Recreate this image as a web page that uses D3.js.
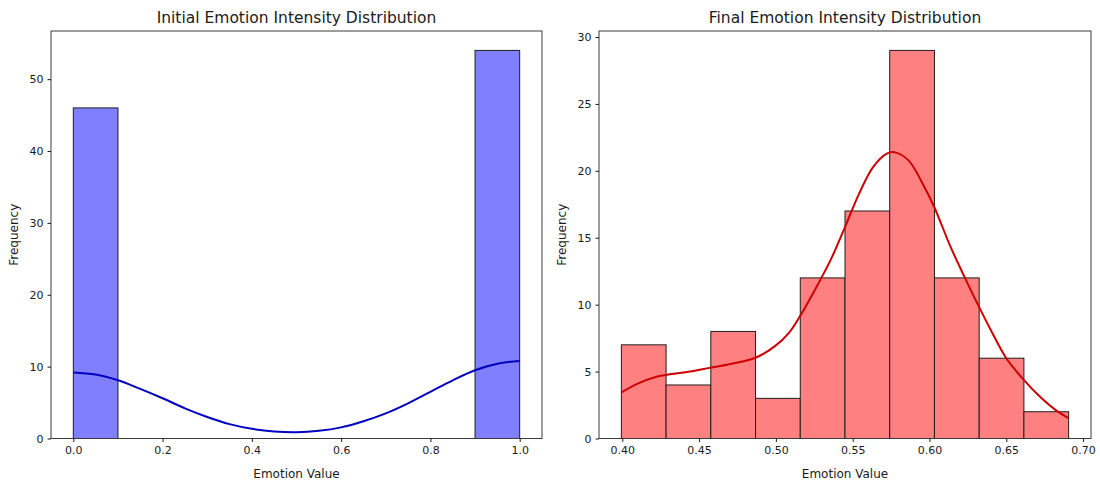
<!DOCTYPE html>
<html>
<head>
<meta charset="utf-8">
<script src="https://cdn.jsdelivr.net/npm/d3@7"></script>
<style>
  html, body { margin: 0; padding: 0; background: #fff; }
  svg { display: block; }
  text { font-family: "DejaVu Sans", sans-serif; fill: #1a1a1a; }
</style>
</head>
<body>
<svg id="chart" width="1100" height="482"></svg>
<script>
// ---------------- data ----------------
const initialTitle = "Initial Emotion Intensity Distribution";
const finalTitle = "Final Emotion Intensity Distribution";
const xLabel = "Emotion Value";
const yLabel = "Frequency";

// Initial histogram: 10 bins of width 0.1 from 0 to 1
const initialBinStart = 0.0;
const initialBinWidth = 0.1;
const initialCounts = [46, 0, 0, 0, 0, 0, 0, 0, 0, 54];
// KDE curve
const initialKdeX = [0.00, 0.05, 0.10, 0.15, 0.20, 0.25, 0.30, 0.35, 0.40, 0.45, 0.50, 0.55, 0.60, 0.65, 0.70, 0.75, 0.80, 0.85, 0.90, 0.95, 1.00];
const initialKdeY = [9.2, 8.9, 8.1, 6.9, 5.6, 4.2, 3.0, 2.0, 1.35, 0.98, 0.88, 1.07, 1.55, 2.4, 3.5, 4.9, 6.5, 8.1, 9.5, 10.4, 10.8];
const initialXTicks = [0.0, 0.2, 0.4, 0.6, 0.8, 1.0];
const initialYTicks = [0, 10, 20, 30, 40, 50];

// Final histogram: 10 bins
const finalBinStart = 0.3994;
const finalBinWidth = 0.02912;
const finalCounts = [7, 4, 8, 3, 12, 17, 29, 12, 6, 2];
const finalKdeX = [0.3994, 0.410, 0.4217, 0.429, 0.4445, 0.458, 0.472, 0.487, 0.4994, 0.5085, 0.516, 0.5268, 0.5359, 0.545, 0.5542, 0.5634, 0.5725, 0.577, 0.5862, 0.5953, 0.6031, 0.6136, 0.6227, 0.6321, 0.641, 0.650, 0.6614, 0.673, 0.682, 0.6905];
const finalKdeY = [3.44, 4.1, 4.6, 4.76, 5.0, 5.3, 5.6, 6.05, 6.9, 7.9, 9.2, 11.4, 13.4, 15.8, 18.3, 20.3, 21.3, 21.4, 20.8, 19.1, 17.3, 14.35, 12.1, 9.87, 7.87, 6.0, 4.38, 3.0, 2.14, 1.52];
const finalXTicks = [0.40, 0.45, 0.50, 0.55, 0.60, 0.65, 0.70];
const finalYTicks = [0, 5, 10, 15, 20, 25, 30];

// ---------------- drawing ----------------
const svg = d3.select("#chart");
const plotTop = 31, plotBottom = 438.5;

function panel(opts) {
  const { left, right, title, binStart, binWidth, counts, kdeX, kdeY, xTicks, yTicks, xFmt, fill, line } = opts;
  const nb = counts.length;
  const dMin = binStart, dMax = binStart + binWidth * nb;
  const pad = (dMax - dMin) * 0.05;
  const x = d3.scaleLinear().domain([dMin - pad, dMax + pad]).range([left, right]);
  const yMax = d3.max(counts) * 1.05;
  const y = d3.scaleLinear().domain([0, yMax]).range([plotBottom, plotTop]);

  const g = svg.append("g");

  const bins = counts.map((c, i) => ({ x0: binStart + i * binWidth, x1: binStart + (i + 1) * binWidth, c }));
  g.selectAll("rect.bar").data(bins).enter().append("rect")
    .attr("class", "bar")
    .attr("x", d => x(d.x0))
    .attr("width", d => x(d.x1) - x(d.x0))
    .attr("y", d => y(d.c))
    .attr("height", d => y(0) - y(d.c))
    .attr("fill", fill)
    .attr("stroke", "#1e1e1e")
    .attr("stroke-width", 1);

  const pts = kdeX.map((v, i) => [v, kdeY[i]]);
  g.append("path")
    .datum(pts)
    .attr("fill", "none")
    .attr("stroke", line)
    .attr("stroke-width", 2)
    .attr("d", d3.line().x(d => x(d[0])).y(d => y(d[1])).curve(d3.curveCatmullRom.alpha(0.5)));

  g.append("rect")
    .attr("x", left).attr("y", plotTop)
    .attr("width", right - left).attr("height", plotBottom - plotTop)
    .attr("fill", "none").attr("stroke", "#3a3a3a").attr("stroke-width", 1);

  const xa = g.append("g").attr("transform", `translate(0,${plotBottom})`)
    .call(d3.axisBottom(x).tickValues(xTicks).tickFormat(xFmt).tickSize(3.5).tickPadding(4));
  const ya = g.append("g").attr("transform", `translate(${left},0)`)
    .call(d3.axisLeft(y).tickValues(yTicks).tickFormat(d3.format("d")).tickSize(3.5).tickPadding(4));
  [xa, ya].forEach(a => {
    a.select(".domain").remove();
    a.selectAll(".tick line").attr("stroke", "#1a1a1a");
    a.selectAll(".tick text").attr("font-family", "DejaVu Sans").attr("font-size", 11).attr("fill", "#1a1a1a");
  });

  g.append("text")
    .attr("x", (left + right) / 2).attr("y", 23)
    .attr("text-anchor", "middle").attr("font-size", 15.5)
    .text(title);
  g.append("text")
    .attr("x", (left + right) / 2).attr("y", 478)
    .attr("text-anchor", "middle").attr("font-size", 12)
    .text(xLabel);
  g.append("text")
    .attr("transform", `translate(${left - 33},${(plotTop + plotBottom) / 2}) rotate(-90)`)
    .attr("text-anchor", "middle").attr("font-size", 12)
    .text(yLabel);
}

panel({
  left: 51, right: 542, title: initialTitle,
  binStart: initialBinStart, binWidth: initialBinWidth, counts: initialCounts,
  kdeX: initialKdeX, kdeY: initialKdeY,
  xTicks: initialXTicks, yTicks: initialYTicks, xFmt: d3.format(".1f"),
  fill: "#8080ff", line: "#0000c0"
});
panel({
  left: 599, right: 1091, title: finalTitle,
  binStart: finalBinStart, binWidth: finalBinWidth, counts: finalCounts,
  kdeX: finalKdeX, kdeY: finalKdeY,
  xTicks: finalXTicks, yTicks: finalYTicks, xFmt: d3.format(".2f"),
  fill: "#ff8080", line: "#cc0000"
});
</script>
</body>
</html>
